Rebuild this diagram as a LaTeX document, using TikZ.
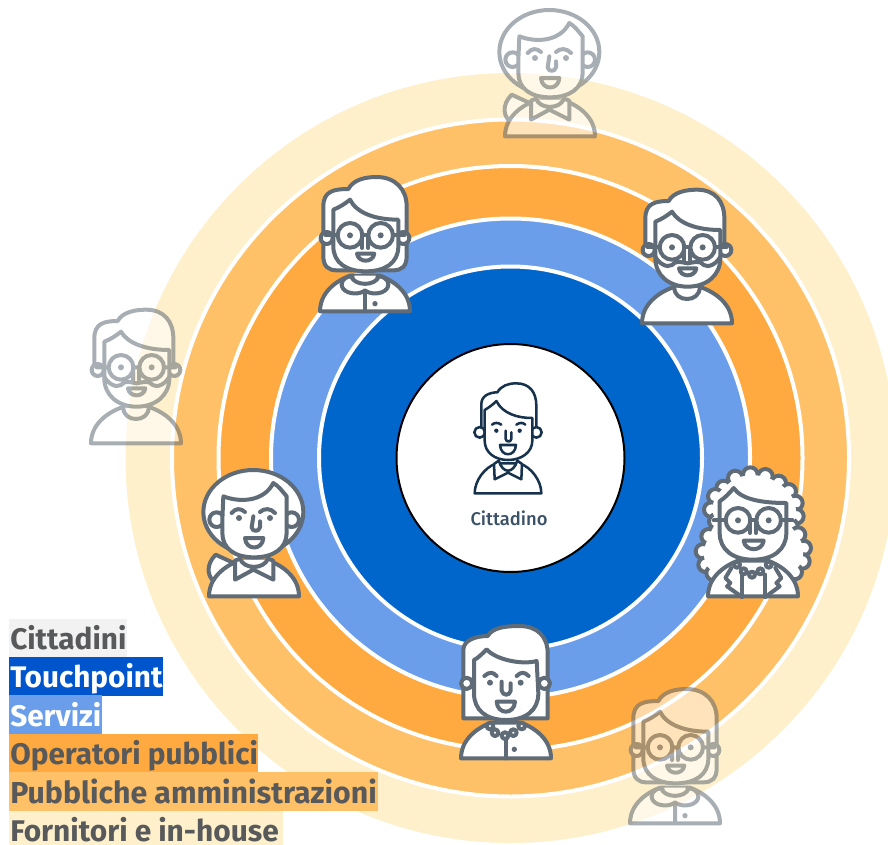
\documentclass[tikz,border=0pt]{standalone}
\usepackage{fontspec}
\newfontfamily\legfont[BoldFont={Fira Sans Bold}]{Fira Sans}
\newfontfamily\medfont{Fira Sans Medium}
\definecolor{ringblue}{HTML}{0066CC}
\definecolor{ringsky}{HTML}{6A9EEB}
\definecolor{ringorange}{HTML}{FFAA40}
\definecolor{ringlight}{HTML}{FFC168}
\definecolor{ringpale}{HTML}{FFF0CC}
\definecolor{legblue}{HTML}{0055CC}
\definecolor{leggray}{HTML}{F2F2F2}
\definecolor{legtext}{HTML}{58595B}
\definecolor{personc}{HTML}{5F6B76}
\definecolor{navy}{HTML}{17324D}
\tikzset{
  x=0.75pt,y=-0.75pt,
  ring/.style={fill=#1,draw=white,line width=3pt},
  pl/.style={draw=personc,line width=3pt,fill=white,line join=round,line cap=round},
  ln/.style={draw=personc,line width=3pt,line join=round,line cap=round},
  cl/.style={draw=navy,line width=1.9pt,fill=white,line join=round,line cap=round},
  cn/.style={draw=navy,line width=1.9pt,line join=round,line cap=round},
  legtxt/.style={anchor=base west,inner sep=0pt,font=\legfont\bfseries\fontsize{#1}{24}\selectfont},
}
% shared pieces, local units: 3 per pixel, origin bottom centre
\newcommand{\glassesp}{%
  \draw[ln] (-83,-233)--(-118,-233) (84,-233)--(118,-233) (-7,-233)--(9,-233);
  \draw[ln] (-45,-233) circle[radius=37] (47,-233) circle[radius=37];
  \fill[personc] (-45,-233) circle[radius=9] (47,-233) circle[radius=9];
  \draw[ln] (-9,-230)--(-9,-195) (9,-230)--(9,-195);
}
\newcommand{\earsp}{\draw[pl] (-115,-225) circle[radius=18] (115,-225) circle[radius=18];}
\newcommand{\bustp}{%
  \draw[pl] (-135,-5) .. controls (-135,-60) and (-90,-95) .. (-45,-112) -- (45,-112) .. controls (90,-95) and (135,-60) .. (135,-5) -- cycle;}
\newcommand{\personA}{%
  \draw[pl] (-125,-170) .. controls (-125,-140) and (-110,-128) .. (-85,-128) -- (85,-128) .. controls (110,-128) and (125,-140) .. (125,-170) -- (125,-320) .. controls (125,-372) and (90,-408) .. (35,-408) .. controls (0,-408) and (-35,-400) .. (-50,-372) .. controls (-95,-372) and (-125,-365) .. (-125,-320) -- cycle;
  \earsp
  \bustp
  \draw[pl] (-38,-112) .. controls (-38,-85) and (-20,-72) .. (0,-72) .. controls (20,-72) and (38,-85) .. (38,-112);
  \draw[pl] (-42,-110) .. controls (-65,-108) and (-78,-90) .. (-65,-72) .. controls (-50,-55) and (-15,-55) .. (0,-68) .. controls (15,-55) and (50,-55) .. (65,-72) .. controls (78,-90) and (65,-108) .. (42,-110) .. controls (30,-80) and (-30,-80) .. (-42,-110) -- cycle;
  \draw[ln] (0,-60)--(0,-8);
  \fill[personc] (30,-28) circle[radius=8];
  \draw[pl] (-95,-235) -- (-95,-310) .. controls (-75,-318) and (-60,-328) .. (-45,-340) .. controls (-25,-300) and (30,-280) .. (100,-280) -- (100,-200) .. controls (100,-150) and (60,-125) .. (2,-125) .. controls (-55,-125) and (-95,-150) .. (-95,-200) -- cycle;
  \glassesp
  \draw[pl] (-24,-178) -- (28,-178) .. controls (24,-150) and (-20,-150) .. (-24,-178) -- cycle;
}
\newcommand{\personB}{%
  \draw[pl] (-125,-225) -- (-125,-320) .. controls (-125,-365) and (-95,-372) .. (-55,-372) .. controls (-40,-400) and (0,-406) .. (30,-406) .. controls (85,-406) and (112,-370) .. (112,-320) -- (112,-225) -- cycle;
  \earsp
  \bustp
  \draw[pl] (-38,-112) .. controls (-38,-90) and (-20,-78) .. (0,-78) .. controls (20,-78) and (38,-90) .. (38,-112);
  \draw[pl] (-95,-235) -- (-95,-310) .. controls (-75,-318) and (-60,-328) .. (-45,-340) .. controls (-25,-305) and (30,-285) .. (100,-285) -- (100,-200) .. controls (100,-150) and (60,-115) .. (2,-115) .. controls (-55,-115) and (-95,-150) .. (-95,-200) -- cycle;
  \glassesp
  \draw[ln] (-95,-205) .. controls (-85,-185) and (-60,-170) .. (-45,-180) .. controls (-35,-195) and (-15,-188) .. (2,-185) .. controls (20,-188) and (40,-195) .. (50,-180) .. controls (65,-170) and (90,-185) .. (100,-205);
  \draw[pl] (-24,-170) -- (28,-170) .. controls (24,-142) and (-20,-142) .. (-24,-170) -- cycle;
}
\newcommand{\personC}{%
  \foreach \a/\b in {-88/-330,-53/-360,-8/-370,37/-365,77/-345,107/-320,127/-285,130/-245,112/-215,135/-190,152/-150,148/-110,125/-78,-113/-305,-125/-265,-110/-230,-133/-185,-150/-140,-142/-100,-118/-75}{
    \draw[ln,fill=white] (\a,\b) circle[radius=22];
  }
  \fill[white] (-88,-330)--(-53,-360)--(-8,-370)--(37,-365)--(77,-345)--(107,-320)--(127,-285)--(130,-245)--(112,-215)--(135,-190)--(152,-150)--(148,-110)--(125,-78)--(-118,-75)--(-142,-100)--(-150,-140)--(-133,-185)--(-110,-230)--(-125,-265)--(-113,-305)--cycle;
  \bustp
  \draw[ln] (-33,-70)--(-33,-3) (37,-70)--(37,-3);
  \draw[ln] (-65,-90) -- (-83,-60) -- (-68,-45) -- (-78,-35) -- (-33,-3);
  \draw[ln] (67,-90) -- (85,-60) -- (70,-45) -- (80,-35) -- (37,-3);
  \draw[pl] (-100,-235) -- (-100,-290) .. controls (-85,-300) and (-70,-315) .. (-58,-330) .. controls (-35,-295) and (30,-285) .. (100,-285) -- (100,-195) .. controls (100,-145) and (60,-115) .. (0,-115) .. controls (-60,-115) and (-100,-145) .. (-100,-195) -- cycle;
  \draw[pl] (-48,-100) circle[radius=9] (-28,-80) circle[radius=9] (-3,-70) circle[radius=9] (22,-80) circle[radius=9] (47,-100) circle[radius=9];
  \glassesp
  \draw[pl] (-28,-172) -- (32,-172) .. controls (28,-138) and (-24,-138) .. (-28,-172) -- cycle;
}
\newcommand{\personD}{%
  \draw[pl] (-128,-125) -- (-128,-330) .. controls (-128,-360) and (-90,-372) .. (-55,-372) .. controls (-40,-398) and (0,-402) .. (40,-402) .. controls (95,-402) and (125,-370) .. (125,-320) -- (125,-125) -- cycle;
  \draw[pl] (-118,-230) circle[radius=17] (115,-230) circle[radius=17];
  \bustp
  \draw[pl] (-96,-225) -- (-96,-300) .. controls (-85,-305) and (-70,-320) .. (-58,-332) .. controls (-30,-300) and (50,-285) .. (92,-297) -- (97,-200) .. controls (97,-150) and (60,-120) .. (0,-120) .. controls (-60,-120) and (-96,-150) .. (-96,-200) -- cycle;
  \draw[pl] (-48,-102) circle[radius=10] (-33,-82) circle[radius=10] (-3,-73) circle[radius=10] (22,-82) circle[radius=10] (47,-102) circle[radius=10];
  \draw[ln] (0,-62)--(0,-5);
  \fill[personc] (25,-32) circle[radius=8];
  \draw[ln] (-65,-252) .. controls (-50,-265) and (-40,-265) .. (-28,-252) (32,-252) .. controls (45,-265) and (55,-265) .. (68,-252);
  \fill[personc] (-48,-232) circle[radius=9] (44,-232) circle[radius=9];
  \draw[ln] (-13,-235) -- (-13,-208) .. controls (-10,-192) and (12,-192) .. (14,-208) -- (14,-230);
  \draw[pl] (-28,-175) -- (27,-175) .. controls (25,-135) and (-26,-135) .. (-28,-175) -- cycle;
}
\newcommand{\personE}{%
  \draw[pl] (-115,-130) .. controls (-145,-100) and (-145,-60) .. (-105,-38) -- (-50,-100) -- cycle;
  \draw[pl] (-2,-258) ellipse[x radius=150,y radius=126];
  \draw[pl] (-112,-235) circle[radius=22] (113,-235) circle[radius=22];
  \bustp
  \draw[pl] (-45,-115) .. controls (-30,-85) and (30,-85) .. (45,-115);
  \draw[pl] (-57,-112) -- (-57,-55) -- (-2,-85) -- (58,-55) -- (58,-112) -- (42,-118) .. controls (30,-85) and (-30,-85) .. (-42,-118) -- cycle;
  \draw[pl] (-95,-235) -- (-92,-305) .. controls (-40,-285) and (30,-290) .. (58,-345) .. controls (75,-335) and (85,-320) .. (98,-305) -- (98,-195) .. controls (98,-150) and (60,-122) .. (0,-122) .. controls (-60,-122) and (-95,-150) .. (-95,-195) -- cycle;
  \draw[ln] (-67,-255) .. controls (-55,-270) and (-40,-270) .. (-27,-258) (18,-258) .. controls (30,-270) and (50,-270) .. (63,-255);
  \fill[personc] (-45,-240) circle[radius=9] (48,-240) circle[radius=9];
  \draw[ln] (-2,-245) -- (-7,-212) .. controls (-5,-198) and (15,-198) .. (18,-212) -- (18,-230);
  \draw[pl] (-27,-180) -- (28,-180) .. controls (26,-142) and (-25,-142) .. (-27,-180) -- cycle;
}
\newcommand{\personCentre}{%
  \draw[cl] (-80,-195) -- (-80,-270) .. controls (-80,-295) and (-55,-305) .. (-32,-305) .. controls (-20,-325) and (0,-332) .. (25,-332) .. controls (65,-332) and (85,-305) .. (85,-265) -- (85,-195) -- cycle;
  \draw[cl] (-85,-185) circle[radius=16] (85,-185) circle[radius=16];
  \draw[cl] (-100,-2) .. controls (-100,-40) and (-70,-80) .. (-35,-92) -- (35,-92) .. controls (70,-80) and (100,-40) .. (100,-2) -- cycle;
  \draw[cl] (-42,-90) -- (-40,-44) -- (0,-64) -- (40,-44) -- (42,-90) -- (28,-100) .. controls (15,-60) and (-15,-60) .. (-28,-100) -- cycle;
  \draw[cl] (-70,-190) -- (-70,-252) .. controls (-60,-258) and (-45,-268) .. (-35,-279) .. controls (-15,-240) and (30,-228) .. (73,-228) -- (73,-160) .. controls (73,-125) and (40,-102) .. (0,-102) .. controls (-40,-102) and (-70,-125) .. (-70,-160) -- cycle;
  \draw[cn] (-48,-208) .. controls (-40,-215) and (-30,-215) .. (-20,-208) (25,-208) .. controls (35,-215) and (45,-215) .. (52,-208);
  \fill[navy] (-35,-190) circle[radius=6.5] (35,-190) circle[radius=6.5];
  \draw[cn] (-7,-190) -- (-7,-165) .. controls (-5,-155) and (8,-155) .. (10,-165) -- (10,-185);
  \draw[cl] (-24,-147) -- (24,-147) .. controls (22,-110) and (-22,-110) .. (-24,-147) -- cycle;
}
\begin{document}
\begin{tikzpicture}
\useasboundingbox (0,0) rectangle (888,845);
\clip (0,0) rectangle (888,845);
% concentric rings
\fill[ringpale] (510.5,458) circle[radius=385];
\draw[ring=ringlight] (510.5,458) circle[radius=338.5];
\draw[ring=ringorange] (510.5,458) circle[radius=292];
\draw[ring=ringsky] (510.5,458) circle[radius=239.5];
\draw[ring=ringblue] (510.5,458) circle[radius=191.5];
\draw[fill=white,draw=black,line width=1.5pt] (510.5,458) circle[radius=114];
% central citizen
\begin{scope}[shift={(508,494)},scale=0.3333] \personCentre \end{scope}
\node[anchor=base,inner sep=0pt,text=navy!85!white,font=\medfont\fontsize{13.8}{15}\selectfont] (lab) at (509,525) {Cittadino};
% people on the rings
\begin{scope}[shift={(365,313)},scale=0.3333] \personA \end{scope}
\begin{scope}[shift={(687,325)},scale=0.3333] \personB \end{scope}
\begin{scope}[shift={(254,598)},scale=0.3333] \personE \end{scope}
\begin{scope}[shift={(753,598)},scale=0.3333] \personC \end{scope}
\begin{scope}[shift={(506,760)},scale=0.3333] \personD \end{scope}
\begin{scope}[transparency group,opacity=0.55]
\begin{scope}[shift={(550,138)},scale=0.3333] \personE \end{scope}
\end{scope}
\begin{scope}[transparency group,opacity=0.55]
\begin{scope}[shift={(136,445)},scale=0.3333] \personB \end{scope}
\end{scope}
\begin{scope}[transparency group,opacity=0.55]
\begin{scope}[shift={(675,825)},scale=0.3333] \personA \end{scope}
\end{scope}
% legend
\fill[leggray] (9,619) rectangle (127,657);
\fill[legblue] (9,657) rectangle (163,696);
\fill[ringsky] (9,695) rectangle (102,734);
\fill[ringorange] (9,734) rectangle (258,772);
\fill[ringlight] (9,772) rectangle (378,811);
\fill[ringpale] (9,811) rectangle (283,845);
\node[legtxt=22.3,text=legtext] (l1) at (10,649) {Cittadini};
\node[legtxt=22.3,text=white] (l2) at (10,687) {Touchpoint};
\node[legtxt=22.3,text=white] (l3) at (10,726) {Servizi};
\node[legtxt=22.3,text=legtext] (l4) at (10,764) {Operatori pubblici};
\node[legtxt=22.7,text=legtext] (l5) at (10,803) {Pubbliche amministrazioni};
\node[legtxt=22.4,text=legtext] (l6) at (10,841) {Fornitori e in-house};
\end{tikzpicture}
\end{document}
